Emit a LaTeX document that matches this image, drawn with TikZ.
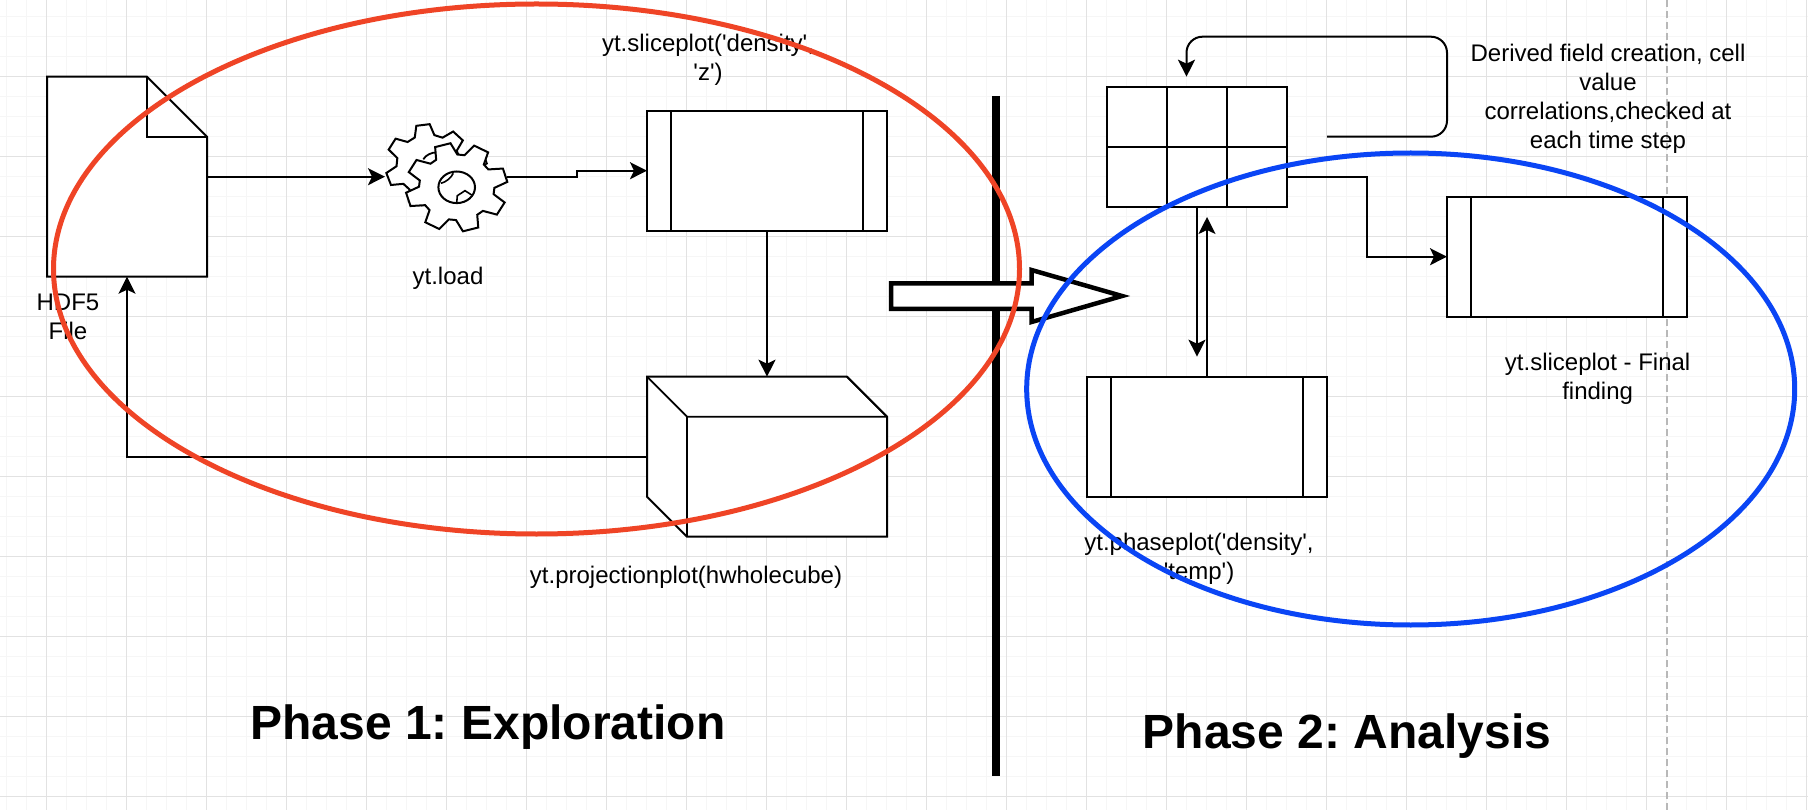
\documentclass[tikz,border=0pt]{standalone}
\usepackage{fontspec}
\newfontfamily\labfont{Liberation Sans}
\usetikzlibrary{arrows.meta,calc}
\definecolor{gridmajor}{HTML}{E2E2E2}
\definecolor{gridminor}{HTML}{F6F6F6}
\definecolor{redring}{HTML}{EF4426}
\definecolor{bluering}{HTML}{0A45F5}
\definecolor{pagedash}{HTML}{B8B8B8}
\tikzset{
  base/.style={rectangle,draw=black,fill=white,line width=2pt,inner sep=0pt,outer sep=0pt},
  procbox/.style={base,minimum width=240pt,minimum height=120pt},
  holder/.style={rectangle,inner sep=0pt,outer sep=0pt},
  outline/.style={draw=black,fill=white,line width=2pt,line join=miter},
  inner/.style={draw=black,line width=1.8pt},
  conn/.style={draw=black,line width=2pt,-{Stealth[length=17pt,width=17pt,inset=4pt]}},
  thinconn/.style={draw=black,line width=1.8pt,-{Stealth[length=17pt,width=17pt,inset=4pt]}},
  label/.style={align=center,inner sep=0pt,font=\labfont\frenchspacing\fontsize{24}{29}\selectfont},
  title/.style={inner sep=0pt,font=\labfont\frenchspacing\fontsize{48}{56}\selectfont\bfseries},
  ring/.style={line width=5pt}
}
% #1 cx, #2 cy, #3 y squash, #4 root radius, #5 tip radius, #6 phase, #7 period, #8 last tooth, #9 root half angle
\newcommand{\gearpath}[9]{%
  \draw[outline] ({#1+#4*cos(#6-#9)},{#2-#3*#4*sin(#6-#9)})
  \foreach \k [evaluate=\k as \ang using #6+#7*\k] in {0,...,#8}{
    -- ({#1+#4*cos(\ang-#9)},{#2-#3*#4*sin(\ang-#9)})
    -- ({#1+#5*cos(\ang-9)},{#2-#3*#5*sin(\ang-9)})
    -- ({#1+#5*cos(\ang+9)},{#2-#3*#5*sin(\ang+9)})
    -- ({#1+#4*cos(\ang+#9)},{#2-#3*#4*sin(\ang+#9)})
  } -- cycle;
}
\begin{document}
\begin{tikzpicture}[x=1pt,y=-1pt]
\useasboundingbox (0,0) rectangle (1808,810);
\fill[white] (0,0) rectangle (1808,810);
% background grid
\foreach \n in {0,...,90}{
  \draw[gridminor,line width=1pt] ({6.7+20*\n},0) -- ({6.7+20*\n},810);
}
\foreach \n in {0,...,40}{
  \draw[gridminor,line width=1pt] (0,{16.5+20*\n}) -- (1808,{16.5+20*\n});
}
\foreach \n in {0,...,22}{
  \draw[gridmajor,line width=1pt] ({46.7+80*\n},0) -- ({46.7+80*\n},810);
}
\foreach \n in {0,...,9}{
  \draw[gridmajor,line width=1pt] (0,{76.5+80*\n}) -- (1808,{76.5+80*\n});
}
\coordinate (pagetop) at (1666.8,0);
\coordinate (pagebot) at (1666.8,810);
\draw[pagedash,line width=2pt,dash pattern=on 7pt off 4pt] (pagetop) -- (pagebot);

% divider
\coordinate (divtop) at (996,96);
\coordinate (divbot) at (996,775.7);
\draw[black,line width=8pt] (divtop) -- (divbot);

% file
\node[holder,minimum width=160pt,minimum height=200pt] (file) at (127,176.7) {};
\draw[outline] (file.north west) -- ++(100,0) -- ($(file.north east)+(0,60)$) -- (file.south east) -- (file.south west) -- cycle;
\draw[draw=black,line width=2pt] ($(file.north west)+(100,0)$) -- ++(0,60) -- ($(file.north east)+(0,60)$);

% gear
\node[holder,minimum width=122pt,minimum height=108pt] (gear) at (446,177) {};
\gearpath{428.5}{165}{0.95}{32}{43}{46}{51.43}{6}{18}
\draw[inner] (423.3,159.3) .. controls (426,155) and (431,152.5) .. (437,152.3);
\draw[line width=1.6pt] (485,158) -- (487,163.5) -- (485,164.5);
\gearpath{456.7}{187.3}{0.87}{37.7}{51}{16}{45}{7}{17}
\draw[outline] (456.7,187.3) ellipse[x radius=18.3,y radius=15.8];
\draw[line width=1.6pt] (441,183.3) .. controls (446,182) and (451,178) .. (453.3,173.3);
\draw[line width=1.6pt] (456.7,203) -- (457.3,195.7) -- (465,190.7) -- (471.7,195);

% process boxes
\node[procbox] (slice) at (767,170.7) {};
\node[procbox] (final) at (1567,256.7) {};
\node[procbox] (phase) at (1207,436.7) {};
\foreach \b in {slice,final,phase}{
  \draw[inner] ([xshift=24pt]\b.north west) -- ([xshift=24pt]\b.south west);
  \draw[inner] ([xshift=-24pt]\b.north east) -- ([xshift=-24pt]\b.south east);
}

% cube
\node[holder,minimum width=240pt,minimum height=160pt] (cube) at (767,456.7) {};
\draw[outline] (cube.north west) -- ($(cube.north east)+(-40,0)$) -- ($(cube.north east)+(0,40)$) -- (cube.south east) -- ($(cube.south west)+(40,0)$) -- ($(cube.south west)+(0,-40)$) -- cycle;
\draw[inner] (cube.north west) -- ($(cube.north west)+(40,40)$) -- ($(cube.north east)+(0,40)$);
\draw[inner] ($(cube.north west)+(40,40)$) -- ($(cube.south west)+(40,0)$);
\draw[inner] ($(cube.north east)+(-40,0)$) -- ($(cube.north east)+(0,40)$);

% table
\node[base,minimum width=180pt,minimum height=120pt] (table) at (1197,146.7) {};
\draw[inner] ([xshift=60pt]table.north west) -- ([xshift=60pt]table.south west);
\draw[inner] ([xshift=120pt]table.north west) -- ([xshift=120pt]table.south west);
\draw[inner,line width=2pt] (table.west) -- (table.east);

% connectors
\draw[conn] (file.east |- 0,176.7) -- (gear.west |- 0,176.7);
\draw[conn] (gear.east |- 0,176.7) -- (577,176.7) -- (577,170.7) -- (slice.west);
\draw[thinconn] (slice.south) -- (cube.north);
\draw[conn] (cube.west) -- (file.south |- cube.west) -- (file.south);
\coordinate (loopstart) at (1327,136.7);
\coordinate (looptip) at (1186.5,76.7);
\draw[conn,rounded corners=16pt] (loopstart) -- (1447,136.7) -- (1447,36.7) -- (1186.5,36.7) -- (looptip);
\draw[conn] (table.east |- 0,176.7) -- (1367,176.7) -- (1367,256.7) -- (final.west);
\coordinate (phasein) at (1197,356.7);
\coordinate (tablein) at (1207,217);
\draw[thinconn] (table.south) -- (phasein);
\draw[thinconn] (phase.north) -- (tablein);

% hollow arrow
\coordinate (arrowtail) at (891,296);
\draw[draw=black,fill=white,line width=4.5pt,line join=miter,miter limit=8]
  (891,283.5) -- (1031.5,283.5) -- (1031.5,270) -- (1122,296) -- (1031.5,322) -- (1031.5,309) -- (891,309) -- cycle;

% labels
\node[label] (lfile) at (68,317) {HDF5\\File};
\node[label] (lload) at (448,278) {yt.load};
\node[label] (lslice) at (708,60) {yt.sliceplot('density',\\'z')};
\node[label] (lproj) at (686,577.5) {yt.projectionplot(hwholecube)};
\node[label] (lder) at (1608,98.5) {Derived field creation, cell\\value\\correlations,checked at\\each time step};
\node[label] (lfinal) at (1597.6,378.5) {yt.sliceplot - Final\\finding};
\node[label] (lphase) at (1199,558.5) {yt.phaseplot('density',\\'temp')};
\node[title] (t1) at (488,727.5) {Phase 1: Exploration};
\node[title] (t2) at (1347,736.5) {Phase 2: Analysis};

% rings
\coordinate (redc) at (536.5,269);
\coordinate (bluec) at (1410.7,389);
\draw[redring,ring] (redc) ellipse[x radius=483,y radius=265];
\draw[bluering,ring] (bluec) ellipse[x radius=384,y radius=236];
\end{tikzpicture}
\end{document}
